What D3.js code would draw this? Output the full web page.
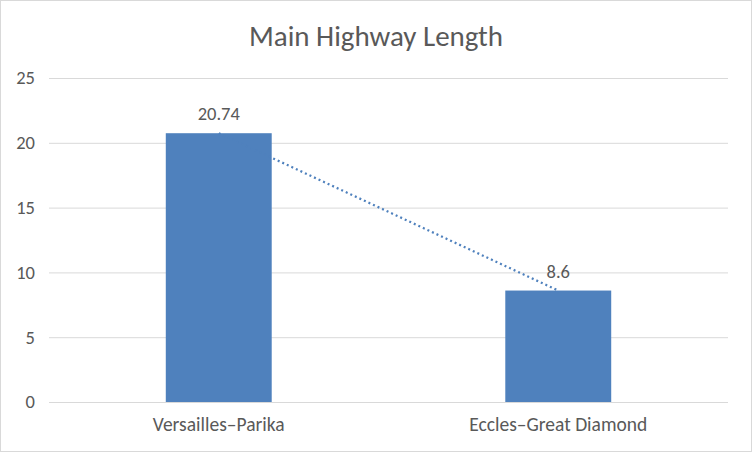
<!DOCTYPE html>
<html>
<head>
<meta charset="utf-8">
<script src="https://cdn.jsdelivr.net/npm/d3@7"></script>
<style>
  body { margin: 0; background: #fff; }
  svg text { font-family: Carlito, "Open Sans", sans-serif; fill: #595959; }
</style>
</head>
<body>
<svg id="chart"></svg>
<script>
// chart values
var categories = ["Versailles–Parika", "Eccles–Great Diamond"];
var lengths = [20.74, 8.6];
var yTicks = [0, 5, 10, 15, 20, 25];
var title = "Main Highway Length";

var width = 752;
var height = 452;
var margin = { top: 78, right: 24, bottom: 50, left: 49 };

var svg = d3.select("#chart")
  .attr("width", width)
  .attr("height", height);

// outer border
svg.append("rect")
  .attr("x", 0.5).attr("y", 0.5)
  .attr("width", width - 1).attr("height", height - 1)
  .attr("fill", "#fff")
  .attr("stroke", "#d9d9d9");

var x = d3.scaleBand()
  .domain(categories)
  .range([margin.left, width - margin.right])
  .paddingInner(0.688)
  .paddingOuter(0.344);

var y = d3.scaleLinear()
  .domain([0, 25])
  .range([height - margin.bottom, margin.top]);

// gridlines + y labels
var yAxis = d3.axisLeft(y)
  .tickValues(yTicks)
  .tickSize(-(width - margin.left - margin.right))
  .tickPadding(14);

svg.append("g")
  .attr("transform", "translate(" + margin.left + ",0)")
  .call(yAxis)
  .call(g => g.select(".domain").remove())
  .call(g => g.selectAll(".tick line").attr("stroke", "#d9d9d9"))
  .call(g => g.selectAll(".tick text").attr("font-size", 18.5));

// x labels
var xAxis = d3.axisBottom(x).tickSize(0).tickPadding(15);
svg.append("g")
  .attr("transform", "translate(0," + y(0) + ")")
  .call(xAxis)
  .call(g => g.select(".domain").remove())
  .call(g => g.selectAll(".tick text").attr("font-size", 19.5));

// bars
svg.selectAll(".bar")
  .data(lengths)
  .enter()
  .append("rect")
    .classed("bar", true)
    .attr("x", (d, i) => x(categories[i]))
    .attr("y", d => y(d))
    .attr("width", x.bandwidth())
    .attr("height", d => y(0) - y(d))
    .attr("fill", "#4f81bd");

// linear trendline through the two bars
var line = d3.line()
  .x((d, i) => x(categories[i]) + x.bandwidth() / 2)
  .y(d => y(d));

svg.append("path")
  .datum(lengths)
  .attr("d", line)
  .attr("fill", "none")
  .attr("stroke", "#4f81bd")
  .attr("stroke-width", 2.25)
  .attr("stroke-dasharray", "2,3");

// data labels
svg.selectAll(".label")
  .data(lengths)
  .enter()
  .append("text")
    .classed("label", true)
    .attr("x", (d, i) => x(categories[i]) + x.bandwidth() / 2)
    .attr("y", d => y(d) - 13)
    .attr("text-anchor", "middle")
    .attr("font-size", 18.5)
    .text(d => d);

// title
svg.append("text")
  .attr("x", width / 2)
  .attr("y", 46)
  .attr("text-anchor", "middle")
  .attr("font-size", 29)
  .text(title);
</script>
</body>
</html>
